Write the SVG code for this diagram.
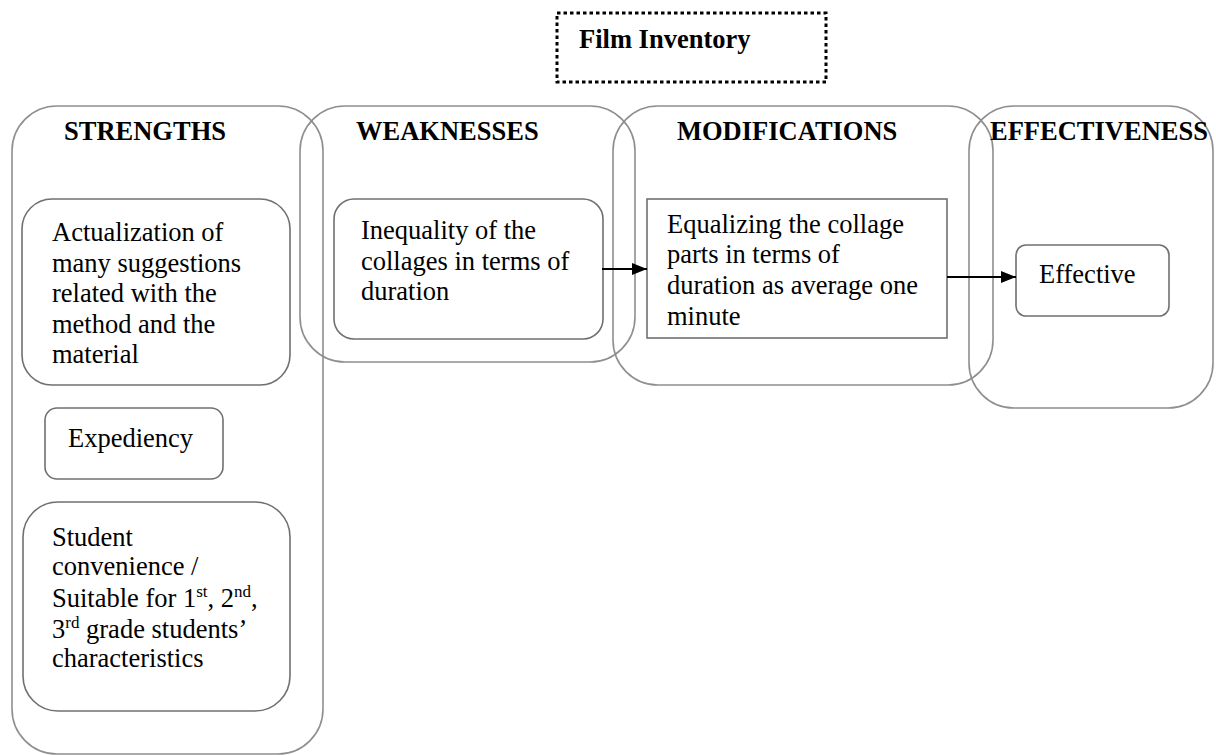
<svg xmlns="http://www.w3.org/2000/svg" width="1216" height="755" viewBox="0 0 1216 755">
  <defs>
    <marker id="arrow" markerWidth="16" markerHeight="12" refX="15" refY="6" orient="auto" markerUnits="userSpaceOnUse">
      <path d="M0,0 L15,6 L0,12 Z" fill="#000"/>
    </marker>
  </defs>
  <style>
    text { font-family: "Liberation Serif", "Times New Roman", serif; font-size: 26.5px; fill: #000; }
    .head { font-weight: bold; }
    .group { fill: none; stroke: #8f8f8f; stroke-width: 1.6; }
    .box { fill: none; stroke: #707070; stroke-width: 1.6; }
    .sup { font-size: 17px; }
    .link { stroke: #000; stroke-width: 2.2; fill: none; marker-end: url(#arrow); }
  </style>
  <rect width="1216" height="755" fill="#fff"/>

  <!-- Title -->
  <g id="title">
    <rect x="557" y="13" width="269" height="69" fill="none" stroke="#000" stroke-width="3" stroke-dasharray="3.5 3"/>
    <text x="579" y="48" class="head">Film Inventory</text>
  </g>

  <!-- Column groups -->
  <g id="strengths">
    <rect class="group" x="12" y="106" width="311" height="648" rx="45" ry="45"/>
    <text x="64" y="140" class="head">STRENGTHS</text>
  </g>
  <g id="weaknesses">
    <rect class="group" x="300" y="106" width="335" height="256" rx="45" ry="45"/>
    <text x="356" y="140" class="head">WEAKNESSES</text>
  </g>
  <g id="modifications">
    <rect class="group" x="613" y="106" width="380" height="279" rx="45" ry="45"/>
    <text x="677" y="140" class="head">MODIFICATIONS</text>
  </g>
  <g id="effectiveness">
    <rect class="group" x="969" y="106" width="244" height="302" rx="45" ry="45"/>
    <text x="990" y="140" class="head">EFFECTIVENESS</text>
  </g>

  <!-- Items -->
  <g id="actualization">
    <rect class="box" x="22" y="199" width="268" height="186" rx="30" ry="30"/>
    <text x="52" y="241">Actualization of</text>
    <text x="52" y="272">many suggestions</text>
    <text x="52" y="302">related with the</text>
    <text x="52" y="333">method and the</text>
    <text x="52" y="363">material</text>
  </g>
  <g id="expediency">
    <rect class="box" x="45" y="408" width="178" height="71" rx="12" ry="12"/>
    <text x="68" y="447">Expediency</text>
  </g>
  <g id="convenience">
    <rect class="box" x="23" y="502" width="267" height="209" rx="35" ry="35"/>
    <text x="52" y="546">Student</text>
    <text x="52" y="575">convenience /</text>
    <text x="52" y="607">Suitable for 1<tspan class="sup" dy="-10">st</tspan><tspan dy="10">, 2</tspan><tspan class="sup" dy="-10">nd</tspan><tspan dy="10">,</tspan></text>
    <text x="52" y="638">3<tspan class="sup" dy="-10">rd</tspan><tspan dy="10"> grade students’</tspan></text>
    <text x="52" y="667">characteristics</text>
  </g>
  <g id="inequality">
    <rect class="box" x="334" y="199" width="269" height="140" rx="20" ry="20"/>
    <text x="361" y="239">Inequality of the</text>
    <text x="361" y="270">collages in terms of</text>
    <text x="361" y="300">duration</text>
  </g>
  <g id="equalizing">
    <rect class="box" x="647" y="199" width="300" height="139"/>
    <text x="667" y="233">Equalizing the collage</text>
    <text x="667" y="263">parts in terms of</text>
    <text x="667" y="294">duration as average one</text>
    <text x="667" y="325">minute</text>
  </g>
  <g id="effective">
    <rect class="box" x="1016" y="245" width="153" height="71" rx="10" ry="10"/>
    <text x="1039" y="283">Effective</text>
  </g>

  <!-- Connectors -->
  <g id="connectors">
    <line class="link" x1="602" y1="269" x2="647" y2="269"/>
    <line class="link" x1="947" y1="277" x2="1016" y2="277"/>
  </g>
</svg>
